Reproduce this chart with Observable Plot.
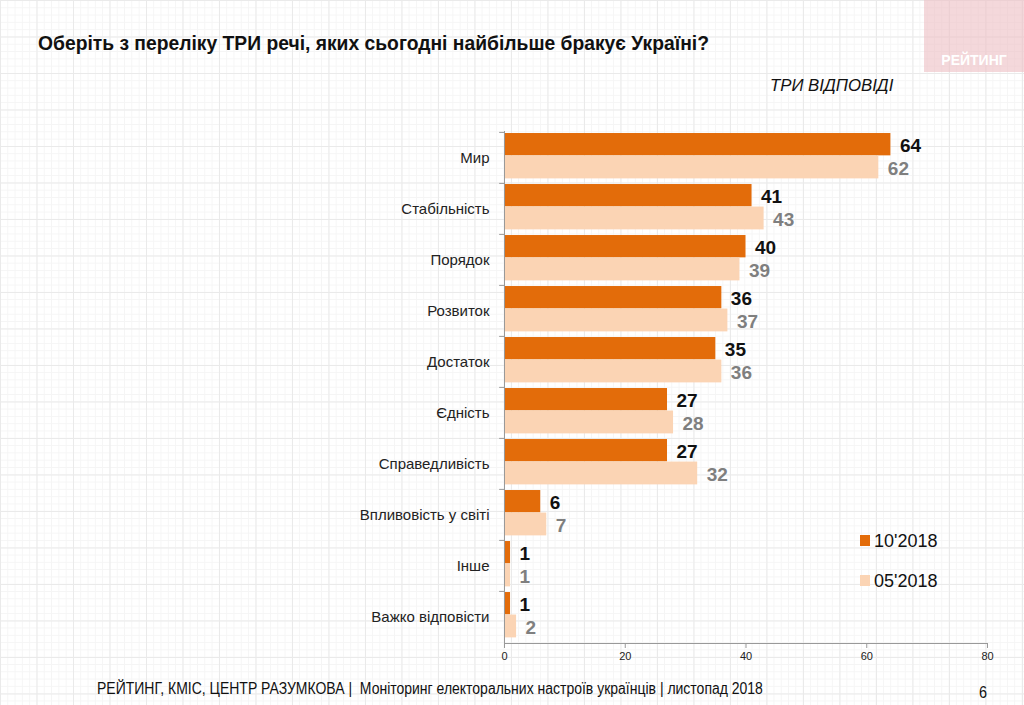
<!DOCTYPE html>
<html>
<head>
<meta charset="utf-8">
<script src="https://cdn.jsdelivr.net/npm/d3@7"></script>
<script src="https://cdn.jsdelivr.net/npm/@observablehq/plot@0.6"></script>
<style>
  html, body { margin: 0; padding: 0; }
  body {
    width: 1024px; height: 705px; overflow: hidden; position: relative;
    font-family: "Liberation Sans", Arial, sans-serif;
    background-color: #fff;
    background-image:
      linear-gradient(to right, #eaeaea 1px, transparent 1px),
      linear-gradient(to bottom, #eaeaea 1px, transparent 1px),
      linear-gradient(to right, #f5f5f5 1px, transparent 1px),
      linear-gradient(to bottom, #f5f5f5 1px, transparent 1px);
    background-size: 36.5px 36.5px, 36.5px 36.5px, 7.3px 7.3px, 7.3px 7.3px;
  }
  #title { position: absolute; left: 38px; top: 33px; font-weight: bold; font-size: 19.3px; color: #111; white-space: nowrap; }
  #sub { position: absolute; left: 770px; top: 76px; font-style: italic; font-size: 16.8px; color: #111; white-space: nowrap; }
  #logo { position: absolute; left: 924px; top: 0; width: 100px; height: 72px; background: rgba(236,190,195,0.6); }
  #logo span { position: absolute; left: 0; width: 100px; top: 52px; text-align: center; color: #fff; font-weight: bold; font-size: 14px; }
  #chart { position: absolute; left: 0; top: 0; }
  #legend { position: absolute; left: 860px; top: 531px; font-size: 18px; color: #111; }
  .li { position: absolute; left: 0; white-space: nowrap; }
  .sw { display: inline-block; width: 10px; height: 11px; margin-right: 4px; vertical-align: 1px; }
  #footer { position: absolute; left: 97px; top: 680px; font-size: 16px; color: #111; white-space: nowrap; transform: scaleX(0.874); transform-origin: 0 0; }
  #page { position: absolute; left: 979px; top: 683px; font-size: 17px; color: #111; transform: scaleX(0.85); transform-origin: 0 0; }
</style>
</head>
<body>
<div id="logo"><span>РЕЙТИНГ</span></div>
<div id="title">Оберіть з переліку ТРИ речі, яких сьогодні найбільше бракує Україні?</div>
<div id="sub">ТРИ ВІДПОВІДІ</div>
<div id="chart"></div>
<div id="legend"></div>
<div id="footer">РЕЙТИНГ, КМІС, ЦЕНТР РАЗУМКОВА |&nbsp; Моніторинг електоральних настроїв українців | листопад 2018</div>
<div id="page">6</div>
<script>
const categories = ["Мир", "Стабільність", "Порядок", "Розвиток", "Достаток", "Єдність", "Справедливість", "Впливовість у світі", "Інше", "Важко відповісти"];
const oct2018 = [64, 41, 40, 36, 35, 27, 27, 6, 1, 1];
const may2018 = [62, 43, 39, 37, 36, 28, 32, 7, 1, 2];
const seriesNames = ["10'2018", "05'2018"];
const seriesColors = ["#E36C0A", "#FBD4B4"];
const xTicks = [0, 20, 40, 60, 80];

const rowsA = categories.map((c, i) => ({cat: c, v: oct2018[i]}));
const rowsB = categories.map((c, i) => ({cat: c, v: may2018[i]}));

const H = 680, mTop = 131, mBottom = 37;
const step = (H - mTop - mBottom) / categories.length;

const chart = Plot.plot({
  width: 1024,
  height: H,
  marginLeft: 504,
  marginRight: 37,
  marginTop: mTop,
  marginBottom: mBottom,
  style: {background: "transparent", fontFamily: "Liberation Sans, Arial, sans-serif"},
  x: {domain: [0, 80], label: null},
  y: {domain: categories, padding: 0, label: null},
  marks: [
    Plot.barX(rowsA, {y: "cat", x: "v", fill: seriesColors[0], insetTop: step * 0.02, insetBottom: step * 0.54}),
    Plot.barX(rowsB, {y: "cat", x: "v", fill: seriesColors[1], insetTop: step * 0.46, insetBottom: step * 0.09}),
    Plot.text(rowsA, {y: "cat", x: "v", text: d => String(d.v), dx: 9, dy: -step * 0.23, textAnchor: "start", fontWeight: "bold", fontSize: 19, fill: "#111"}),
    Plot.text(rowsB, {y: "cat", x: "v", text: d => String(d.v), dx: 9, dy: step * 0.21, textAnchor: "start", fontWeight: "bold", fontSize: 19, fill: "#7f7f7f"}),
    Plot.ruleX([0], {stroke: "#999", strokeWidth: 1}),
    Plot.ruleY(categories, {y: d => d, x1: -0.8, x2: 0, dy: -step / 2, stroke: "#999"}),
    Plot.axisY({tickSize: 0, tickPadding: 15, fontSize: 15, fill: "#222"}),
    Plot.axisX({ticks: xTicks, tickSize: 5, tickPadding: 4, fontSize: 11, stroke: "#999", fill: "#222", tickFormat: d => String(d)}),
    Plot.frame({anchor: "bottom", stroke: "#999"})
  ]
});
document.getElementById("chart").appendChild(chart);

const legend = document.getElementById("legend");
seriesNames.forEach((n, i) => {
  const d = document.createElement("div");
  d.className = "li";
  d.style.top = (i * 40) + "px";
  d.innerHTML = `<span class="sw" style="background:${seriesColors[i]}"></span>${n}`;
  legend.appendChild(d);
});
</script>
</body>
</html>
